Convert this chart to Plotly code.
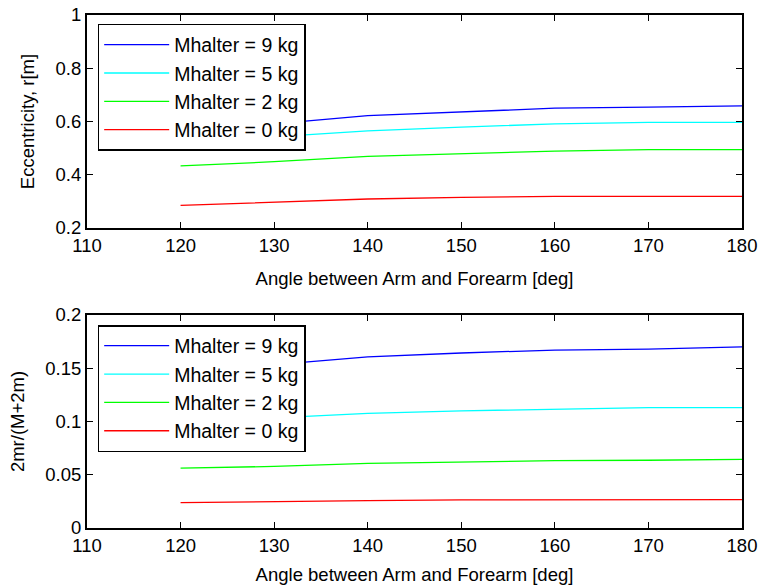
import plotly.graph_objects as go

angles = [120, 130, 140, 150, 160, 170, 180]

series_names = ["Mhalter = 9 kg", "Mhalter = 5 kg", "Mhalter = 2 kg", "Mhalter = 0 kg"]
series_colors = ["#0000ff", "#00ffff", "#00ff00", "#ff0000"]

ecc_9 = [0.566, 0.591, 0.622, 0.637, 0.650, 0.654, 0.659]
ecc_5 = [0.520, 0.543, 0.565, 0.579, 0.591, 0.597, 0.597]
ecc_2 = [0.433, 0.449, 0.469, 0.478, 0.489, 0.494, 0.494]
ecc_0 = [0.285, 0.298, 0.309, 0.315, 0.319, 0.319, 0.319]

ratio_9 = [0.146, 0.153, 0.1606, 0.1643, 0.1671, 0.1680, 0.1700]
ratio_5 = [0.099, 0.103, 0.1077, 0.1100, 0.1117, 0.1130, 0.1130]
ratio_2 = [0.0563, 0.0578, 0.0607, 0.0620, 0.0632, 0.0636, 0.0645]
ratio_0 = [0.0238, 0.0250, 0.0257, 0.0264, 0.0266, 0.0266, 0.0266]

x_ticks = [110, 120, 130, 140, 150, 160, 170, 180]
y1_ticks = [0.2, 0.4, 0.6, 0.8, 1.0]
y1_ticktext = ["0.2", "0.4", "0.6", "0.8", "1"]
y2_ticks = [0, 0.05, 0.1, 0.15, 0.2]
y2_ticktext = ["0", "0.05", "0.1", "0.15", "0.2"]

FONT = "Liberation Sans, Arial, sans-serif"
FS = 18.5
LFS = 19.5

fig = go.Figure()

top_series = [ecc_9, ecc_5, ecc_2, ecc_0]
bot_series = [ratio_9, ratio_5, ratio_2, ratio_0]

for name, col, ys in zip(series_names, series_colors, top_series):
    fig.add_trace(go.Scatter(x=angles, y=ys, mode="lines", name=name,
                             line=dict(color=col, width=1.3),
                             xaxis="x", yaxis="y", legend="legend"))
for name, col, ys in zip(series_names, series_colors, bot_series):
    fig.add_trace(go.Scatter(x=angles, y=ys, mode="lines", name=name,
                             line=dict(color=col, width=1.3),
                             xaxis="x2", yaxis="y2", legend="legend2"))

axis_common = dict(
    showline=True, linecolor="black", linewidth=2, mirror="ticks",
    ticks="inside", ticklen=6, tickwidth=1, tickcolor="black",
    showgrid=False, zeroline=False, automargin=False,
    tickfont=dict(family=FONT, size=FS, color="black"),
)

x_title = "Angle between Arm and Forearm [deg]"

legend_common = dict(
    bgcolor="white", bordercolor="black", borderwidth=1.5,
    font=dict(family=FONT, size=LFS, color="black"),
    xanchor="left", yanchor="top", itemwidth=65,
    traceorder="normal",
)

fig.update_layout(
    width=761, height=585,
    margin=dict(l=87, r=19, t=15, b=57, autoexpand=False),
    paper_bgcolor="white", plot_bgcolor="white",
    font=dict(family=FONT, size=FS, color="black"),
    xaxis=dict(axis_common, domain=[0, 1], range=[110, 180], tickvals=x_ticks,
               anchor="y", title=dict(text=x_title, standoff=17,
                                       font=dict(family=FONT, size=FS))),
    yaxis=dict(axis_common, domain=[0.5848, 1], range=[0.2, 1], tickvals=y1_ticks,
               ticktext=y1_ticktext, anchor="x",
               title=dict(text="Eccentricity, r[m]", standoff=16,
                          font=dict(family=FONT, size=FS))),
    xaxis2=dict(axis_common, domain=[0, 1], range=[110, 180], tickvals=x_ticks,
                anchor="y2", title=dict(text=x_title, standoff=17,
                                        font=dict(family=FONT, size=FS))),
    yaxis2=dict(axis_common, domain=[0, 0.4152], range=[0, 0.2], tickvals=y2_ticks,
                ticktext=y2_ticktext, anchor="x2",
                title=dict(text="2mr/(M+2m)", standoff=16,
                           font=dict(family=FONT, size=FS))),
    legend=dict(legend_common, x=0.0163, y=0.9825),
    legend2=dict(legend_common, x=0.0163, y=0.3957),
)

fig.write_html("out.html")
